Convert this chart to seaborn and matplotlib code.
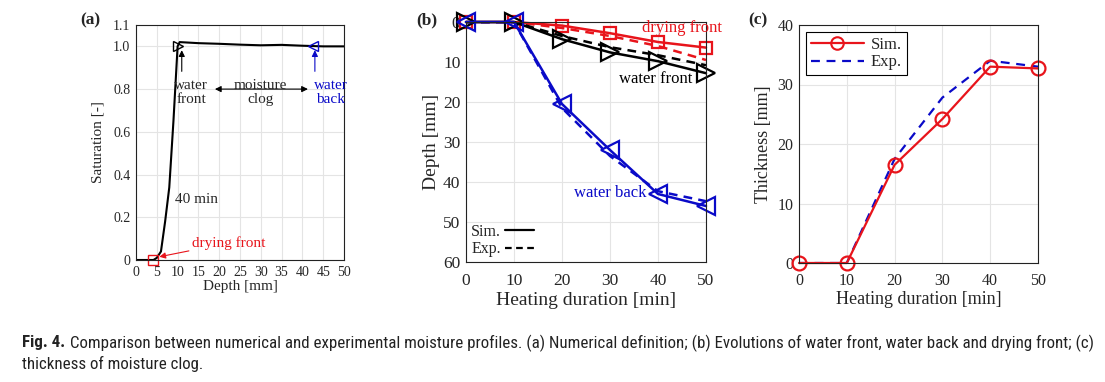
import numpy as np
import pandas as pd
import matplotlib
matplotlib.use("Agg")
import matplotlib.pyplot as plt
import seaborn as sns
from matplotlib.lines import Line2D
from matplotlib import font_manager

# (a) saturation profile at 40 min
depth_a = [0, 3, 4.2, 5, 6, 7, 8, 9, 10, 10.5, 15, 20, 25, 30, 35, 40, 45, 50]
sat_a = [0, 0, 0, 0.01, 0.04, 0.18, 0.34, 0.65, 1.0, 1.02, 1.015, 1.012,
         1.008, 1.005, 1.007, 1.003, 1.0, 1.0]
drying_pt = (4.2, 0.0)
wfront_pt = (10, 1.0)
wback_pt = (42.5, 1.0)
a_xticks = [0, 5, 10, 15, 20, 25, 30, 35, 40, 45, 50]
a_yticks = [0, 0.2, 0.4, 0.6, 0.8, 1.0, 1.1]
a_ylabels = ["0", "0.2", "0.4", "0.6", "0.8", "1.0", "1.1"]

# (b) front depth evolution
t = [0, 10, 20, 30, 40, 50]
dry_sim = [0, 0, 0.9, 2.8, 5.0, 6.4]
dry_exp = [0, 0, 1.5, 3.5, 6.0, 9.5]
wf_sim = [0, 0, 4.3, 7.6, 9.8, 12.8]
wf_exp = [0, 0, 3.5, 6.3, 8.3, 10.8]
wb_sim = [0, 0, 20.5, 32.0, 43.0, 46.0]
wb_exp = [0, 0, 21.5, 33.5, 42.3, 44.8]

# (c) clog thickness
thick_sim = [0, 0, 16.5, 24.2, 33.0, 32.7]
thick_exp = [0, 0, 17.5, 27.8, 34.0, 33.0]

caption_bold = "Fig. 4."
caption_1 = ("Comparison between numerical and experimental moisture profiles. (a) Numerical "
             "definition; (b) Evolutions of water front, water back and drying front; (c)")
caption_2 = "thickness of moisture clog."

RED = "#e8141b"
BLUE = "#0a0ac8"
sns.set_style("whitegrid", {"grid.color": "#e6e6e6", "axes.edgecolor": "#222222",
                            "xtick.direction": "in", "ytick.direction": "in"})
serif = ["Liberation Serif", "DejaVu Serif"]
plt.rcParams["font.family"] = serif
plt.rcParams["mathtext.fontset"] = "stix"

fig = plt.figure(figsize=(11.05, 3.82), dpi=100)
W, H = 1105, 382


def box(l, t_, r, b):
    return [l / W, 1 - b / H, (r - l) / W, (b - t_) / H]


def style(ax, size, xpad=4):
    for s in ax.spines.values():
        s.set_linewidth(0.8)
        s.set_color("#222222")
    ax.tick_params(labelsize=size, length=0, pad=4)
    ax.tick_params(axis="x", pad=xpad)
    ax.grid(True, color="#e4e4e4", linewidth=0.8)


# ---- (a)
ax1 = fig.add_axes(box(136, 25, 344, 260))
sns.lineplot(x=depth_a, y=sat_a, color="black", linewidth=1.5, sort=False, ax=ax1)
ax1.plot(*drying_pt, marker="s", ms=7, mfc="none", mec=RED, mew=1.0, clip_on=False)
ax1.plot(*wfront_pt, marker=">", ms=7, mfc="none", mec="black", mew=1.0)
ax1.plot(*wback_pt, marker="<", ms=7, mfc="none", mec=BLUE, mew=1.0)
ax1.set_xlim(0, 50)
ax1.set_ylim(0, 1.1)
ax1.set_xticks(a_xticks)
ax1.set_yticks(a_yticks)
ax1.set_yticklabels(a_ylabels)
style(ax1, 10)
ax1.set_xlabel("Depth [mm]", fontsize=11, labelpad=1)
ax1.set_ylabel("Saturation [-]", fontsize=11, labelpad=6)
fs = 11
ax1.annotate("", xy=(11, 0.995), xytext=(11, 0.87),
             arrowprops=dict(arrowstyle="-|>", color="black", lw=0.8, mutation_scale=9))
ax1.text(13.3, 0.785, "water\nfront", ha="center", va="center", fontsize=fs, linespacing=1.05)
ax1.annotate("", xy=(18.3, 0.8), xytext=(42, 0.8),
             arrowprops=dict(arrowstyle="<|-|>", color="black", lw=0.8, mutation_scale=9))
ax1.text(30, 0.785, "moisture\nclog", ha="center", va="center", fontsize=fs, linespacing=1.05)
ax1.annotate("", xy=(43, 0.995), xytext=(43, 0.87),
             arrowprops=dict(arrowstyle="-|>", color=BLUE, lw=0.8, mutation_scale=9))
ax1.text(46.8, 0.785, "water\nback", ha="center", va="center", fontsize=fs,
         color=BLUE, linespacing=1.05, clip_on=False)
ax1.text(9.4, 0.285, "40 min", fontsize=fs, va="center")
ax1.annotate("drying front", xy=(5.6, 0.015), xytext=(13.5, 0.08), fontsize=fs,
             color=RED, va="center",
             arrowprops=dict(arrowstyle="-|>", color=RED, lw=0.8, mutation_scale=9,
                             shrinkA=0, shrinkB=0))
fig.text(80 / W, 1 - 20 / H, "(a)", fontsize=12.5, fontweight="bold", va="center")

# ---- (b)
ax2 = fig.add_axes(box(466, 22, 706, 262))
lw = 1.8
for ys, ye, col, mk, ms in [(dry_sim, dry_exp, RED, "s", 8),
                            (wf_sim, wf_exp, "black", ">", 13),
                            (wb_sim, wb_exp, BLUE, "<", 13)]:
    sns.lineplot(x=t, y=ye, color=col, linewidth=lw, linestyle=(0, (3.5, 2.5)), ax=ax2)
    sns.lineplot(x=t, y=ys, color=col, linewidth=lw, marker=mk, markersize=ms,
                 markerfacecolor="none", markeredgecolor=col, markeredgewidth=1.6,
                 ax=ax2, clip_on=False)
ax2.set_xlim(0, 50)
ax2.set_ylim(60, 0)
ax2.set_xticks(t)
ax2.set_yticks([0, 10, 20, 30, 40, 50, 60])
style(ax2, 12.5, xpad=8)
ax2.set_xlabel("Heating duration [min]", fontsize=14, labelpad=2)
ax2.set_ylabel("Depth [mm]", fontsize=14, labelpad=2)
ax2.text(45, 1.6, "drying front", color=RED, fontsize=12, ha="center", va="center")
ax2.text(39.5, 14.2, "water front", color="black", fontsize=12, ha="center", va="center")
ax2.text(30, 42.8, "water back", color=BLUE, fontsize=12, ha="center", va="center")
hb = [Line2D([], [], color="black", lw=1.6),
      Line2D([], [], color="black", lw=1.6, linestyle=(0, (3, 2)))]
ax2.legend(hb, ["Sim.", "Exp."], loc="lower left", frameon=False, markerfirst=False,
           fontsize=11.5, handlelength=1.8, handletextpad=0.3, borderaxespad=0.1,
           labelspacing=0.1, borderpad=0.2)
fig.text(416 / W, 1 - 20 / H, "(b)", fontsize=12.5, fontweight="bold", va="center")

# ---- (c)
ax3 = fig.add_axes(box(799, 25, 1038, 263))
sns.lineplot(x=t, y=thick_exp, color=BLUE, linewidth=1.6, linestyle=(0, (4, 3)), ax=ax3)
sns.lineplot(x=t, y=thick_sim, color=RED, linewidth=1.6, marker="o", markersize=10,
             markerfacecolor="none", markeredgecolor=RED, markeredgewidth=1.6,
             ax=ax3, clip_on=False)
ax3.set_xlim(0, 50)
ax3.set_ylim(0, 40)
ax3.set_xticks(t)
ax3.set_yticks([0, 10, 20, 30, 40])
style(ax3, 11.5, xpad=7)
ax3.set_xlabel("Heating duration [min]", fontsize=13, labelpad=2)
ax3.set_ylabel("Thickness [mm]", fontsize=13, labelpad=4)
hc = [Line2D([], [], color=RED, lw=1.6, marker="o", ms=9, mfc="none", mew=1.5),
      Line2D([], [], color=BLUE, lw=1.6, linestyle=(0, (4, 3)))]
lg = ax3.legend(hc, ["Sim.", "Exp."], loc="upper left", fontsize=12, fancybox=False,
                edgecolor="black", framealpha=1, handlelength=3.2, handletextpad=0.4,
                labelspacing=0.1, borderpad=0.3, borderaxespad=0.4)
lg.get_frame().set_linewidth(0.8)
fig.text(748 / W, 1 - 20 / H, "(c)", fontsize=12.5, fontweight="bold", va="center")

# ---- caption: narrow sans, sized to fill the reference line width
names = {f.name for f in font_manager.fontManager.ttflist}
cap_font = [n for n in ["Liberation Sans Narrow", "Roboto Condensed", "Open Sans",
                        "Liberation Sans", "DejaVu Sans"] if n in names][:1]
renderer = fig.canvas.get_renderer()
cap_fs = 9.5
t0 = fig.text(22 / W, 1 - 343 / H, caption_bold, fontsize=cap_fs, fontweight="bold",
              family=cap_font, fontstretch="condensed", va="center", color="#222222")
bb0 = t0.get_window_extent(renderer)
t1 = fig.text((bb0.x1 + 5) / W, 1 - 343 / H, caption_1, fontsize=cap_fs, family=cap_font,
              fontstretch="condensed", va="center", color="#222222")
bb1 = t1.get_window_extent(renderer)
scale = (1093 - 22) / (bb1.x1 - bb0.x0)
cap_fs = cap_fs * scale
t0.set_fontsize(cap_fs)
bb0 = t0.get_window_extent(renderer)
t1.set_fontsize(cap_fs)
t1.set_x((bb0.x1 + 5) / W)
fig.text(22 / W, 1 - 364 / H, caption_2, fontsize=cap_fs, family=cap_font,
         fontstretch="condensed", va="center", color="#222222")

fig.savefig("out.png", dpi=100)
